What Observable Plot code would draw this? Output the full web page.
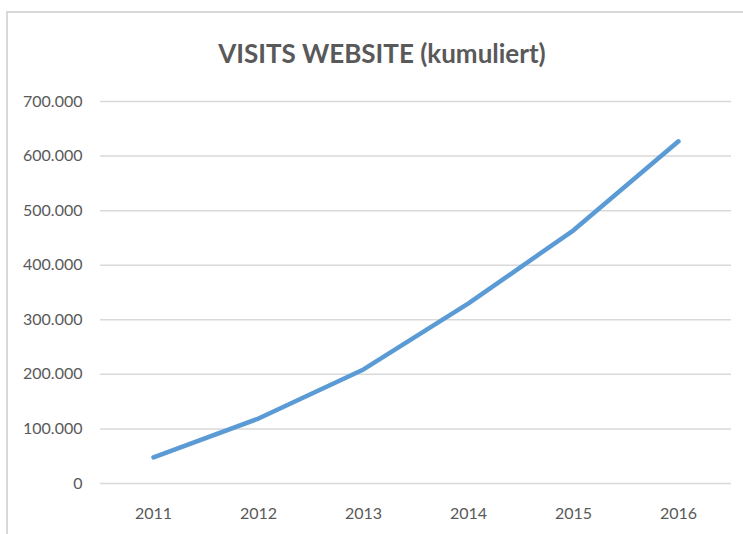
<!DOCTYPE html>
<html>
<head>
<meta charset="utf-8">
<script src="https://cdn.jsdelivr.net/npm/d3@7"></script>
<script src="https://cdn.jsdelivr.net/npm/@observablehq/plot@0.6"></script>
<style>
  html, body { margin: 0; padding: 0; background: #fff; }
  #frame { position: absolute; left: 6px; top: 11px; width: 760px; height: 540px;
           border-left: 2px solid #d9d9d9; border-top: 2px solid #d9d9d9; box-sizing: border-box; }
  #title { position: absolute; left: 0; top: 37px; width: 764px; text-align: center;
           font-family: Lato, sans-serif; font-weight: bold; font-size: 26px; color: #595959; }
  #chart { position: absolute; left: 0; top: 80px; }
</style>
</head>
<body>
<div id="frame"></div>
<div id="title">VISITS WEBSITE (kumuliert)</div>
<div id="chart"></div>
<script>
const years = ["2011", "2012", "2013", "2014", "2015", "2016"];
const visits = [48000, 119000, 209000, 330000, 464000, 627000];
const yTicks = [0, 100000, 200000, 300000, 400000, 500000, 600000, 700000];

const data = years.map((y, i) => ({year: y, value: visits[i]}));
const fmt = d => d3.format(",")(d).replace(/,/g, ".");

const chart = Plot.plot({
  width: 743,
  height: 454,
  marginLeft: 100,
  marginRight: 12,
  marginTop: 21,
  marginBottom: 51,
  style: {fontFamily: "Lato, sans-serif", fontSize: "16px", color: "#595959", background: "transparent"},
  x: {type: "point", domain: years, padding: 0.5, label: null},
  y: {domain: [0, 700000], label: null},
  marks: [
    Plot.ruleY(yTicks, {stroke: "#d9d9d9", strokeWidth: 1.5}),
    Plot.axisY({ticks: yTicks, tickFormat: fmt, tickSize: 0, tickPadding: 18, fontSize: 16, fill: "#595959"}),
    Plot.axisX({tickSize: 0, tickPadding: 24, fontSize: 16, fill: "#595959"}),
    Plot.line(data, {x: "year", y: "value", stroke: "#5B9BD5", strokeWidth: 4.5, strokeLinecap: "round", strokeLinejoin: "round"})
  ]
});
document.getElementById("chart").appendChild(chart);
</script>
</body>
</html>
